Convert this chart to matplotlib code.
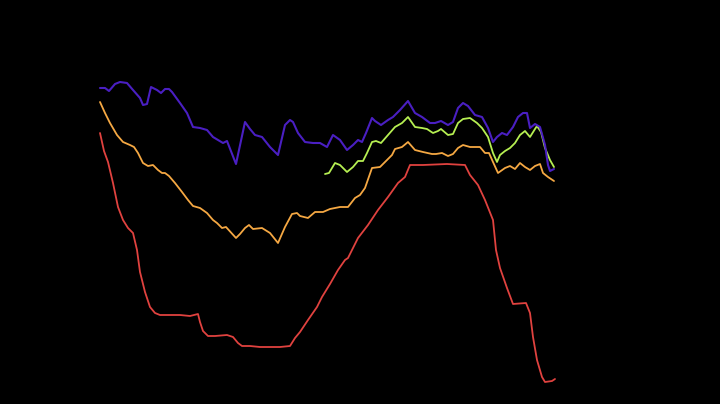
import numpy as np
import matplotlib.pyplot as plt

purple_x = [100, 105, 109, 115, 120, 127, 133, 140, 143, 147, 151, 157, 161, 165, 169, 172,
            180, 187, 193, 200, 207, 213, 218, 223, 227, 236, 245, 250, 255, 262, 270, 278,
            285, 290, 293, 298, 305, 313, 320, 327, 333, 340, 347, 353, 358, 362, 366, 372,
            375, 381, 388, 393, 400, 408, 415, 422, 430, 435, 441, 448, 453, 458, 463, 468,
            475, 482, 488, 493, 497, 502, 507, 513, 518, 523, 527, 530, 535, 540, 545, 548,
            550, 554]
purple_y = [88, 88, 91, 84, 82, 83, 90, 98, 105, 104, 87, 90, 93, 89, 89, 92,
            103, 113, 127, 128, 130, 137, 140, 143, 141, 164, 122, 129, 135, 137, 147, 155,
            125, 120, 122, 133, 142, 143, 143, 147, 135, 140, 150, 145, 140, 142, 133, 118,
            121, 125, 120, 117, 110, 101, 113, 117, 123, 123, 121, 125, 122, 108, 103, 106,
            115, 117, 128, 142, 137, 133, 135, 127, 117, 113, 113, 128, 124, 127, 145, 165,
            171, 169]

green_x = [325, 329, 335, 340, 347, 353, 358, 363, 367, 372, 376, 381, 388, 395, 402, 408,
           415, 422, 427, 433, 438, 441, 448, 453, 458, 463, 470, 477, 482, 488, 493, 497,
           500, 505, 510, 515, 520, 525, 530, 535, 537, 541, 545, 550, 554]
green_y = [174, 173, 163, 165, 172, 167, 161, 161, 153, 142, 141, 143, 135, 127, 123, 117,
           127, 128, 129, 133, 131, 129, 135, 134, 123, 119, 118, 123, 128, 137, 153, 162,
           155, 151, 148, 143, 135, 131, 137, 129, 126, 132, 148, 160, 167]

orange_x = [100, 105, 110, 117, 123, 130, 134, 138, 143, 148, 153, 158, 162, 165, 169, 175,
            182, 188, 193, 200, 207, 213, 217, 222, 226, 236, 240, 245, 249, 253, 262, 270,
            278, 285, 292, 297, 300, 308, 315, 323, 330, 340, 348, 355, 360, 365, 372, 380,
            387, 392, 395, 402, 408, 415, 423, 432, 436, 442, 448, 453, 458, 463, 470, 477,
            480, 485, 489, 493, 498, 505, 510, 515, 520, 525, 530, 535, 540, 543, 548, 554]
orange_y = [102, 113, 123, 135, 142, 145, 147, 153, 163, 166, 165, 170, 173, 173, 176, 183,
            192, 200, 206, 208, 213, 220, 223, 228, 227, 238, 234, 228, 225, 229, 228, 233,
            243, 227, 214, 213, 216, 218, 212, 212, 209, 207, 207, 198, 195, 188, 168, 167,
            160, 155, 149, 147, 142, 150, 152, 154, 154, 153, 156, 154, 148, 145, 147, 147,
            147, 153, 153, 162, 173, 168, 166, 169, 163, 167, 170, 166, 164, 173, 177, 181]

red_x = [100, 104, 108, 113, 118, 123, 128, 133, 137, 140, 145, 150, 155, 160, 170, 180,
         190, 198, 200, 203, 208, 215, 227, 233, 238, 242, 250, 260, 270, 280, 290, 295,
         300, 308, 317, 322, 330, 338, 345, 348, 358, 368, 378, 388, 398, 405, 410, 423,
         447, 465, 470, 478, 485, 493, 496, 500, 507, 513, 526, 530, 533, 537, 542, 545,
         552, 555]
red_y = [133, 151, 162, 183, 207, 220, 228, 233, 250, 272, 292, 307, 313, 315, 315, 315,
         316, 314, 322, 331, 336, 336, 335, 337, 343, 346, 346, 347, 347, 347, 346, 338,
         332, 320, 307, 297, 284, 270, 260, 258, 238, 225, 210, 197, 183, 177, 165, 165,
         164, 165, 175, 185, 200, 220, 250, 268, 288, 304, 303, 313, 337, 360, 377, 382,
         381, 379]

fig = plt.figure(figsize=(7.2, 4.04), dpi=100, facecolor='black')
ax = fig.add_axes([0, 0, 1, 1])
ax.set_facecolor('black')

style = dict(solid_joinstyle='round', solid_capstyle='round')
ax.plot(red_x, red_y, color='#e0423f', lw=1.3, **style)
ax.plot(orange_x, orange_y, color='#f5a843', lw=1.3, **style)
ax.plot(green_x, green_y, color='#b6ef52', lw=1.3, **style)
ax.plot(purple_x, purple_y, color='#4a1fc2', lw=1.5, **style)

ax.set_xlim(0, 720)
ax.set_ylim(404, 0)
ax.axis('off')

plt.savefig('out.png', facecolor='black')
